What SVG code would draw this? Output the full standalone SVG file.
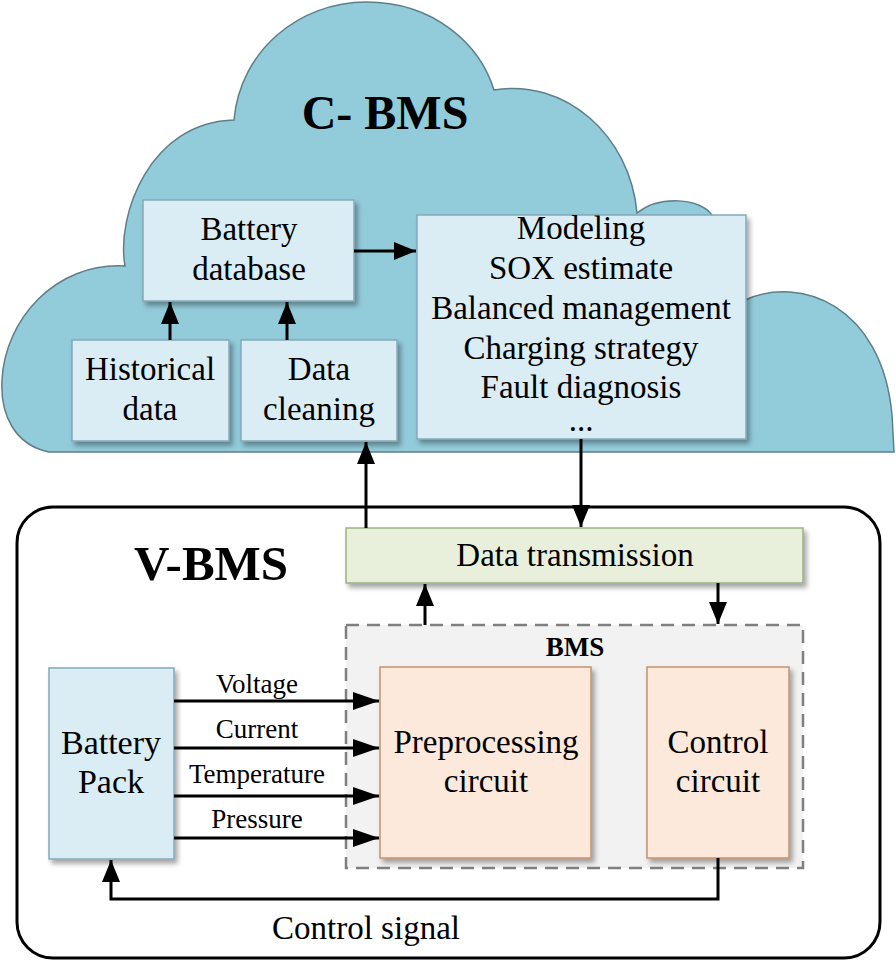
<svg xmlns="http://www.w3.org/2000/svg" width="896" height="962" viewBox="0 0 896 962">
<defs>
<filter id="sh" x="-10%" y="-10%" width="130%" height="130%">
<feDropShadow dx="3" dy="4" stdDeviation="2.5" flood-color="#000" flood-opacity="0.35"/>
</filter>
<marker id="ab" viewBox="0 0 22 18" refX="22" refY="9" markerWidth="22" markerHeight="18" orient="auto" markerUnits="userSpaceOnUse">
<path d="M0,0 L22,9 L0,18 Z" fill="#000"/>
</marker>
<marker id="ab2" viewBox="0 0 26 18" refX="26" refY="9" markerWidth="26" markerHeight="18" orient="auto" markerUnits="userSpaceOnUse">
<path d="M0,0 L26,9 L0,18 Z" fill="#000"/>
</marker>
</defs>
<style>
text{font-family:"Liberation Serif","Times New Roman",serif;fill:#000;text-anchor:middle}
.t{font-size:33px}
.s{font-size:27px}
.b{font-weight:bold}
.blue{fill:#DBEDF4;stroke:#84A9B8;stroke-width:1.5}
.green{fill:#E8F0DC;stroke:#9AB283;stroke-width:1.5}
.orange{fill:#FCE9DB;stroke:#C5926E;stroke-width:1.5}
.c{fill:none;stroke:#000;stroke-width:3;marker-end:url(#ab)}
.c2{fill:none;stroke:#000;stroke-width:3;marker-end:url(#ab2)}
</style>
<rect width="896" height="962" fill="#fff"/>
<g id="cloud">
<path d="M 49 452 C 15 445 0 415 2 380 C 5 320 55 262 125 266 C 116 215 150 122 234 120 C 240 50 300 2 366 2 C 435 2 480 45 494 90 C 565 78 630 135 637 213 C 660 195 700 198 712 215 L 745 300 C 800 275 882 305 892 415 L 894 452 Z" fill="#92CBDA" stroke="#5E7F88" stroke-width="1.5"/>
<text x="385" y="129" class="b" style="font-size:48px">C- BMS</text>
</g>
<g id="vbms">
<rect x="17" y="507" width="863" height="451" rx="36" ry="36" fill="#fff" stroke="#000" stroke-width="3"/>
<text x="211" y="580" class="b" style="font-size:49px">V-BMS</text>
</g>
<g id="battery-database">
<rect x="143" y="200" width="211" height="101" class="blue" filter="url(#sh)"/>
<text x="249" y="240" class="t">Battery</text>
<text x="249" y="280" class="t">database</text>
</g>
<g id="historical-data">
<rect x="72" y="340" width="157" height="101" class="blue" filter="url(#sh)"/>
<text x="150" y="380" class="t">Historical</text>
<text x="150" y="420" class="t">data</text>
</g>
<g id="data-cleaning">
<rect x="241" y="340" width="156" height="101" class="blue" filter="url(#sh)"/>
<text x="319" y="380" class="t">Data</text>
<text x="319" y="420" class="t">cleaning</text>
</g>
<g id="modeling">
<rect x="417" y="215" width="329" height="224" class="blue" filter="url(#sh)"/>
<text x="581" y="239" class="t">Modeling</text>
<text x="581" y="279" class="t">SOX estimate</text>
<text x="581" y="319" class="t">Balanced management</text>
<text x="581" y="359" class="t">Charging strategy</text>
<text x="581" y="398" class="t">Fault diagnosis</text>
<text x="581" y="431" class="t">...</text>
</g>
<g id="data-transmission">
<rect x="346" y="528" width="457" height="55" class="green" filter="url(#sh)"/>
<text x="575" y="566" class="t">Data transmission</text>
</g>
<g id="bms">
<rect x="346" y="625" width="457" height="243" fill="#F2F2F2" stroke="#7F7F7F" stroke-width="2.5" stroke-dasharray="13,8"/>
<text x="575" y="656" class="b" style="font-size:27px">BMS</text>
</g>
<g id="preprocessing-circuit">
<rect x="380" y="667" width="211" height="191" class="orange" filter="url(#sh)"/>
<text x="486" y="753" class="t">Preprocessing</text>
<text x="486" y="792" class="t">circuit</text>
</g>
<g id="control-circuit">
<rect x="647" y="667" width="142" height="191" class="orange" filter="url(#sh)"/>
<text x="718" y="753" class="t">Control</text>
<text x="718" y="792" class="t">circuit</text>
</g>
<g id="battery-pack">
<rect x="49" y="668" width="125" height="191" class="blue" filter="url(#sh)"/>
<text x="111" y="754" class="t" style="font-size:34px">Battery</text>
<text x="111" y="793" class="t" style="font-size:34px">Pack</text>
</g>
<g id="connectors">
<line x1="170" y1="340" x2="170" y2="302" class="c"/>
<line x1="287" y1="340" x2="287" y2="302" class="c"/>
<line x1="354" y1="251" x2="416" y2="251" class="c"/>
<line x1="366" y1="528" x2="366" y2="442" class="c"/>
<line x1="581" y1="439" x2="581" y2="527" class="c"/>
<line x1="425" y1="625" x2="425" y2="584" class="c"/>
<line x1="718" y1="583" x2="718" y2="624" class="c"/>
<line x1="174" y1="701" x2="379" y2="701" class="c2"/>
<line x1="174" y1="748" x2="379" y2="748" class="c2"/>
<line x1="174" y1="796" x2="379" y2="796" class="c2"/>
<line x1="174" y1="838" x2="379" y2="838" class="c2"/>
<polyline points="718,858 718,899 111,899 111,860" class="c"/>
<text x="257" y="693" class="s">Voltage</text>
<text x="257" y="738" class="s">Current</text>
<text x="257" y="783" class="s">Temperature</text>
<text x="257" y="828" class="s">Pressure</text>
<text x="366" y="939" class="t">Control signal</text>
</g>
</svg>
